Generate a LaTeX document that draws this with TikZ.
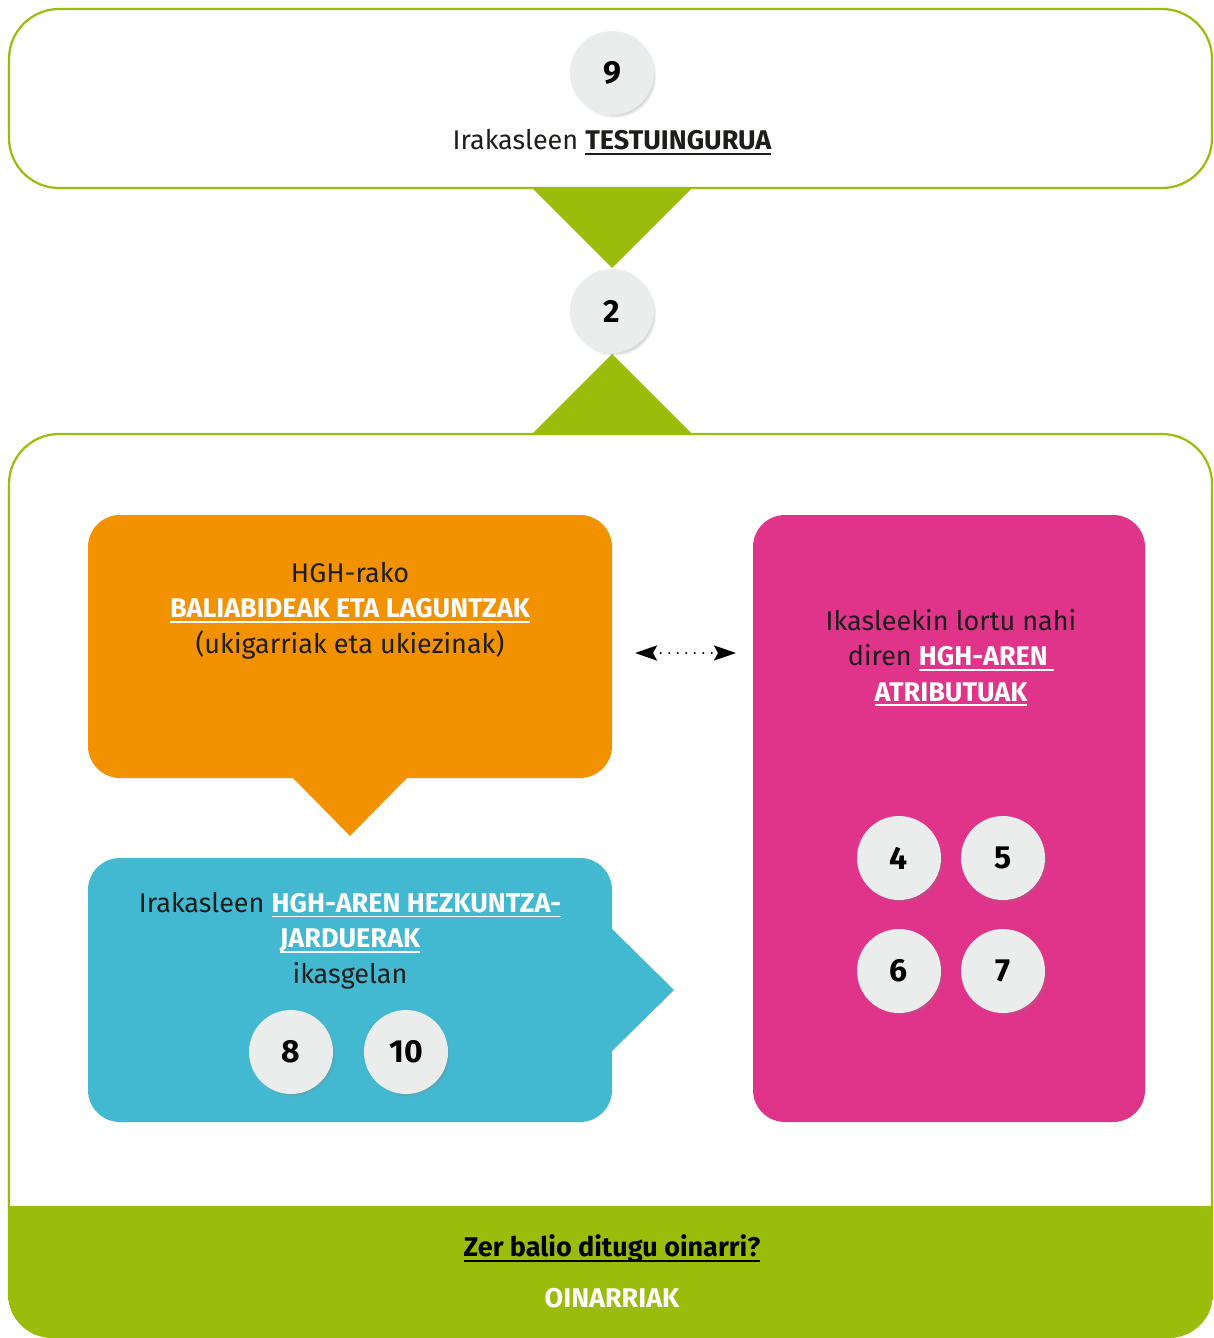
\documentclass[tikz,border=0pt]{standalone}
\usepackage{fontspec}
\setmainfont{Fira Sans}
\usetikzlibrary{arrows.meta,shadows}
\definecolor{hgreen}{HTML}{9ABD0C}
\definecolor{horange}{HTML}{F39200}
\definecolor{hblue}{HTML}{42B9D1}
\definecolor{hpink}{HTML}{E0348A}
\definecolor{hcirc}{HTML}{EBECEC}
\definecolor{htext}{HTML}{1D1D1B}
\newcommand\ulx[1]{\setbox0\hbox{#1}\rlap{\rule[-5pt]{\wd0}{1.8pt}}\box0}
\tikzset{
  numcirc/.style={circle, fill=hcirc, minimum size=84pt, inner sep=0pt,
    font=\fontsize{32}{32}\selectfont\bfseries, text=black,
    circular drop shadow={shadow xshift=2.5pt, shadow yshift=-3pt, shadow scale=1.0, opacity=0.5}},
  bodytext/.style={align=center, text=htext, font=\fontsize{27}{35.5}\selectfont, inner sep=0pt},
  frame/.style={draw=hgreen, line width=2.2pt, rounded corners=50pt},
}
\begin{document}
\begin{tikzpicture}[x=1pt,y=-1pt]
\useasboundingbox (0,0) rectangle (1213,1338);
\fill[white] (0,0) rectangle (1213,1338);
\begin{scope}
\clip (0,0) rectangle (1213,1338);
% top frame
\draw[frame] (9,9) rectangle (1212,188);
% lower container
\draw[frame] (9,1300) -- (9,434) -- (1212,434) -- (1212,1300);
% connector triangles
\fill[hgreen] (532,188) -- (692,188) -- (612,268) -- cycle;
\fill[hgreen] (532,434) -- (692,434) -- (612,354) -- cycle;
% bottom band
\begin{scope}
\clip[rounded corners=44pt] (8,1100) rectangle (1213,1338);
\fill[hgreen] (8,1206) rectangle (1213,1338);
\end{scope}
\end{scope}
% orange box
\fill[horange, rounded corners=32pt] (88,515) rectangle (612,778);
\fill[horange] (292,777) -- (408,777) -- (350,836) -- cycle;
% blue box
\fill[hblue, rounded corners=32pt] (88,858) rectangle (612,1122);
\fill[hblue] (611,928) -- (674,990) -- (611,1052) -- cycle;
% pink box
\fill[hpink, rounded corners=32pt] (753,515) rectangle (1145,1122);
% circles
\node[numcirc] (n9) at (612,73) {9};
\node[numcirc] (n2) at (612,311) {2};
\node[numcirc] (n4) at (899,858) {4};
\node[numcirc] (n5) at (1003,858) {5};
\node[numcirc] (n6) at (899,971) {6};
\node[numcirc] (n7) at (1003,971) {7};
\node[numcirc] (n8) at (291,1052) {8};
\node[numcirc] (n10) at (406,1052) {10};
% texts
\node[bodytext] (ttop) at (612,142) {Irakasleen \textbf{\ulx{TESTUINGURUA}}};
\node[bodytext, anchor=north] (torange) at (350,562) {HGH-rako\\
  \textcolor{white}{\bfseries\ulx{BALIABIDEAK ETA LAGUNTZAK}}\\
  (ukigarriak eta ukiezinak)};
\node[bodytext, anchor=north] (tpink) at (951,609) {Ikasleekin lortu nahi\\
  diren \textcolor{white}{\bfseries\ulx{HGH-AREN }}\\
  \textcolor{white}{\bfseries\ulx{ATRIBUTUAK}}};
\node[bodytext, anchor=north] (tblue) at (350,892) {Irakasleen \textcolor{white}{\bfseries\ulx{HGH-AREN HEZKUNTZA-}}\\
  \textcolor{white}{\bfseries\ulx{JARDUERAK}}\\
  ikasgelan};
\node[bodytext, text=black] (tq) at (612,1249) {\bfseries\ulx{Zer balio ditugu oinarri?}};
\node[bodytext, text=white] (tbase) at (612,1298) {\bfseries OINARRIAK};
% dotted double arrow
\coordinate (al) at (635,653);
\coordinate (ar) at (736,653);
\draw[line width=2.4pt, line cap=round, dash pattern=on 0pt off 8.5pt,
  {Stealth[length=22pt,width=15pt,inset=4pt]}-{Stealth[length=22pt,width=15pt,inset=4pt]}] (al) -- (ar);
\end{tikzpicture}
\end{document}
